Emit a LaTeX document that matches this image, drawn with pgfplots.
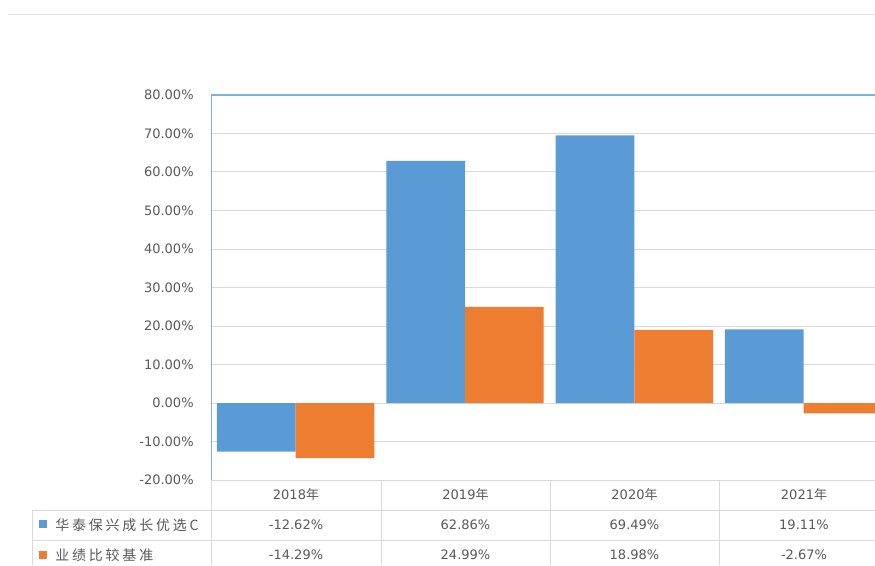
\documentclass[border=0pt]{standalone}
\usepackage{fontspec}
\setmainfont{DejaVu Sans}
\newfontfamily\cjk[LetterSpace=20]{Noto Sans CJK SC}
\newfontfamily\cjkplain{Noto Sans CJK SC}
\usepackage{pgfplots}
\pgfplotsset{compat=1.18}

\definecolor{sblue}{HTML}{5B9BD5}
\definecolor{sorange}{HTML}{ED7D31}
\definecolor{axblue}{HTML}{7EB2E2}
\definecolor{gridgray}{HTML}{D9D9D9}
\definecolor{txt}{HTML}{595959}

\newcommand{\tf}{\fontsize{9.75pt}{11pt}\selectfont}

\begin{document}
\begin{tikzpicture}
\path[use as bounding box] (0,0) rectangle (656.25pt,-423.75pt);
\clip (0,0) rectangle (656.25pt,-423.75pt);

\begin{axis}[
    at={(158.25pt,-360pt)}, anchor=south west,
    scale only axis, width=508pt, height=288.75pt,
    xmin=-0.5, xmax=3.5, ymin=-20, ymax=80,
    ytick={-20,-10,...,80}, xtick=\empty,
    ymajorgrids=true,
    grid style={draw=gridgray, line width=0.75pt},
    axis line style={draw=none},
    major tick length=0pt,
    ybar=0pt, bar width=0.465,
    /pgf/number format/assume math mode=true,
    yticklabel={\pgfmathprintnumber[fixed,fixed zerofill,precision=2]{\tick}\%},
    yticklabel style={font=\tf, text=txt, xshift=-9.5pt},
]
\addplot[fill=sblue, draw=none] coordinates {(0,-12.62) (1,62.86) (2,69.49) (3,19.11)};
\addplot[fill=sorange, draw=none] coordinates {(0,-14.29) (1,24.99) (2,18.98) (3,-2.67)};
\draw[axblue, line width=1pt] (rel axis cs:0,0) -- (rel axis cs:0,1) -- (rel axis cs:1,1);
\end{axis}

\begin{scope}[x=0.75pt,y=-0.75pt]
% chart area frame
\draw[gridgray!70, line width=0.75pt] (8,14) -- (875,14);

% data table
\begin{scope}[draw=gridgray, line width=0.75pt]
\draw (32,510) -- (875,510);
\draw (32,540) -- (875,540);
\draw (32,510) -- (32,565);
\foreach \xx in {211,381,550,719} \draw (\xx,480) -- (\xx,565);
\end{scope}

\begin{scope}[every node/.style={font=\tf, text=txt, inner sep=0pt}]
\node at (296,495) {2018{\cjkplain 年}};
\node at (465.5,495) {2019{\cjkplain 年}};
\node at (634.5,495) {2020{\cjkplain 年}};
\node at (804,495) {2021{\cjkplain 年}};

\node at (296,525) {-12.62\%};
\node at (465.5,525) {62.86\%};
\node at (634.5,525) {69.49\%};
\node at (804,525) {19.11\%};

\node at (296,555) {-14.29\%};
\node at (465.5,555) {24.99\%};
\node at (634.5,555) {18.98\%};
\node at (804,555) {-2.67\%};

\fill[sblue] (39,520) rectangle (47,528);
\fill[sorange] (39,551) rectangle (47,559);
\node[anchor=west] at (55,525) {\fontsize{10.5pt}{12pt}\cjk 华泰保兴成长优选C};
\node[anchor=west] at (55,555) {\fontsize{10.5pt}{12pt}\cjk 业绩比较基准};
\end{scope}
\end{scope}
\end{tikzpicture}
\end{document}
